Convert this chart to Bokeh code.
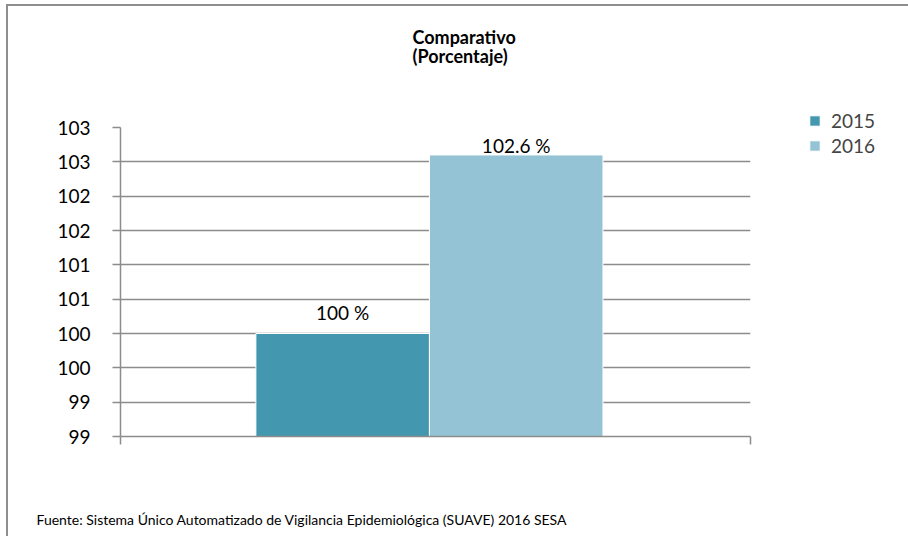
import numpy as np
from bokeh.plotting import figure
from bokeh.models import (ColumnDataSource, Range1d, FixedTicker, LinearAxis, LabelSet,
                          Title, Legend, LegendItem, InlineStyleSheet)
from bokeh.core.properties import value
from bokeh.embed import file_html
from bokeh.resources import INLINE

# ---- data ----
years = ["2015", "2016"]
values = [100.0, 102.6]
value_labels = ["100 %", "102.6 %"]
bar_colors = ["#4398B0", "#94C3D5"]
y_ticks = [98.5, 99.0, 99.5, 100.0, 100.5, 101.0, 101.5, 102.0, 102.5, 103.0]
y_tick_labels = ["99", "99", "100", "100", "101", "101", "102", "102", "103", "103"]
title_lines = ["Comparativo", "(Porcentaje)"]
source_note = "Fuente: Sistema Único Automatizado de Vigilancia Epidemiológica (SUAVE) 2016 SESA"

FONT = "Lato"
GRID = "#8c8c8c"

y_start, y_end = y_ticks[0], y_ticks[-1]
frame_w, frame_h = 630, 309
px_per_unit = frame_h / (y_end - y_start)

x = np.arange(len(years), dtype=float)
x_range = Range1d(-1.28, len(years) - 1 + 1.35)
# value label above the bar if it fits in the plot area, else tucked at the bar top
label_offsets = [14 if (y_end - v) * px_per_unit >= 30 else 2 for v in values]

src = ColumnDataSource(dict(x=x, top=values, color=bar_colors, year=years,
                            lab=value_labels, off=label_offsets))

border_css = InlineStyleSheet(css=":host { margin-left: 6px; margin-top: 4px; "
                                  "border-left: 2px solid #8e8e8e; border-top: 2px solid #8e8e8e; }")

p = figure(frame_width=frame_w, frame_height=frame_h, x_range=x_range,
           y_range=Range1d(y_start, y_end),
           output_backend="svg", toolbar_location=None, x_axis_type=None,
           min_border_left=112, min_border_right=148, min_border_top=121, min_border_bottom=100,
           stylesheets=[border_css])
p.outline_line_color = None
p.background_fill_color = "white"
p.border_fill_color = "white"

# y axis
yax = p.yaxis[0]
yax.ticker = FixedTicker(ticks=y_ticks)
yax.major_label_overrides = {t: l for t, l in zip(y_ticks, y_tick_labels)}
yax.major_tick_in = 0
yax.major_tick_out = 8
yax.minor_tick_line_color = None
yax.axis_line_color = GRID
yax.major_tick_line_color = GRID
yax.axis_line_width = 1.5
yax.major_tick_line_width = 1.5
yax.major_label_text_font = FONT
yax.major_label_text_font_size = "19px"
yax.major_label_text_color = "#000000"
yax.major_label_standoff = 22

# x axis (single category): unlabeled ticks at both borders
xax = LinearAxis(ticker=FixedTicker(ticks=[], minor_ticks=[x_range.start, x_range.end]),
                 major_tick_line_color=None, major_tick_out=0, major_tick_in=0,
                 minor_tick_in=0, minor_tick_out=8, minor_tick_line_color=GRID,
                 minor_tick_line_width=1.5, axis_line_color=GRID, axis_line_width=1.5,
                 major_label_standoff=0)
p.add_layout(xax, "below")


def spacer(size):
    # an invisible, unlabeled axis used only to reserve room in a side panel
    return LinearAxis(ticker=FixedTicker(ticks=[], minor_ticks=[x_range.start]),
                      major_tick_out=0, major_tick_in=0, minor_tick_in=0, minor_tick_out=size,
                      major_tick_line_color=None, minor_tick_line_color=None,
                      axis_line_color=None, major_label_standoff=0)


p.xgrid.grid_line_color = None
p.ygrid.ticker = FixedTicker(ticks=y_ticks)
p.ygrid.grid_line_color = GRID
p.ygrid.grid_line_width = 1.5

bars = p.vbar(x="x", top="top", bottom=y_start, width=1.0, source=src,
              fill_color="color", line_color="white", line_width=1)

labels = LabelSet(x="x", y="top", text="lab", source=src, text_align="center",
                  y_offset="off", text_font=value(FONT), text_font_size="19px",
                  text_color="#000000", text_baseline="alphabetic")
p.add_layout(labels)

legend = Legend(items=[LegendItem(label=yr, renderers=[bars], index=i) for i, yr in enumerate(years)],
                location=(58, 279), padding=0, margin=0, spacing=2, label_height=20,
                glyph_height=13, glyph_width=13, label_standoff=10,
                label_text_font=FONT, label_text_font_size="19px",
                border_line_color=None, background_fill_alpha=0)
p.add_layout(legend, "right")

# title above a reserved gap
p.add_layout(spacer(60), "above")
p.add_layout(Title(text="\n".join(title_lines), align="left", offset=292, standoff=0,
                   text_font=FONT, text_font_size="18px", text_line_height=0.9,
                   text_font_style="bold", text_color="#000000"), "above")

# source note below a reserved gap
p.add_layout(spacer(64), "below")
p.add_layout(Title(text=source_note, align="left", text_font=FONT, text_font_size="14px",
                   text_font_style="normal", text_color="#000000", offset=-84, standoff=0),
             "below")

open("out.html", "w").write(file_html(p, INLINE))
